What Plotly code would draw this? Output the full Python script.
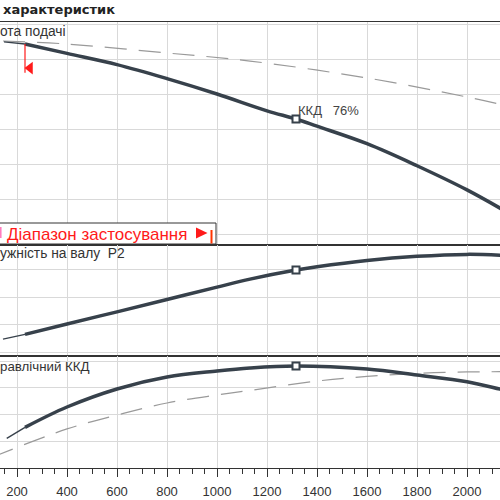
import plotly.graph_objects as go

# ---------------- data ----------------
Q_MIN = 232          # lower limit of application range (flow)
Q_BEP = 1316         # best efficiency point

# Head curve (top panel)
q_head = [148, 232, 400, 600, 800, 1000, 1200, 1316, 1400, 1600, 1800, 2000, 2200]
head = [37.45, 37.15, 35.8, 34.2, 32.2, 30.0, 27.6, 26.43, 25.4, 22.9, 19.75, 16.3, 12.3]
q_head_ref = [144, 400, 800, 1132, 1600, 2000, 2200]
head_ref = [37.57, 37.14, 35.86, 34.71, 32.29, 29.57, 28.0]

# Shaft power P2 (middle panel)
q_pow = [144, 232, 400, 600, 800, 1000, 1132, 1316, 1400, 1600, 1800, 2000, 2132, 2200]
power = [2.47, 2.64, 3.02, 3.46, 3.91, 4.36, 4.65, 4.98, 5.10, 5.33, 5.48, 5.55, 5.52, 5.48]

# Hydraulic efficiency (bottom panel)
q_eff = [159, 232, 400, 600, 800, 1000, 1132, 1316, 1600, 1800, 2000, 2132, 2200]
eff = [22.2, 30.4, 45.6, 59.1, 68.0, 72.5, 74.8, 76.3, 74.0, 69.5, 64.5, 59.0, 56.0]
q_eff_ref = [100, 400, 600, 800, 1000, 1132, 1400, 1600, 1800, 2000, 2132, 2200]
eff_ref = [8.0, 29.2, 39.6, 48.6, 54.6, 58.0, 65.0, 68.5, 70.8, 71.8, 72.0, 72.0]

bep_head, bep_power, bep_eff = 26.43, 4.98, 76.3
marker_bottom_head = 33.04
arrow_q, arrow_head = 252, 33.71

x_ticks = [0, 200, 400, 600, 800, 1000, 1200, 1400, 1600, 1800, 2000, 2200]
head_ticks = [10, 15, 20, 25, 30, 35, 40]
power_ticks = [2, 3, 4, 5]
eff_ticks = [0, 20, 40, 60, 80]

label_title = "характеристик"
label_head = "ота подачі"
label_power = "ужність на валу  P2"
label_eff = "равлічний ККД"
label_bep = "ККД   76%"
label_range = "Діапазон застосування"

# ---------------- styling ----------------
W, H = 500, 500
ML, MR, MT, MB = 0, 0, 22, 32
PLOT_H = H - MT - MB
DARK = "#37414b"
GRID = "#d9d9d9"
FONT = "Liberation Sans"


def px_x(p):
    return (p - ML) / (W - ML - MR)


def px_y(p):
    return (H - MB - p) / PLOT_H


def split(q, v):
    thin = [(a, b) for a, b in zip(q, v) if a <= Q_MIN]
    thick = [(a, b) for a, b in zip(q, v) if a >= Q_MIN]
    return list(zip(*thin)), list(zip(*thick))


fig = go.Figure()

def add_curve(q, v, xa, ya):
    (tq, tv), (kq, kv) = split(q, v)
    fig.add_trace(go.Scatter(x=tq, y=tv, mode="lines", xaxis=xa, yaxis=ya,
                             line=dict(color=DARK, width=1.4, shape="spline"),
                             hoverinfo="skip", showlegend=False))
    fig.add_trace(go.Scatter(x=kq, y=kv, mode="lines", xaxis=xa, yaxis=ya,
                             line=dict(color=DARK, width=3.5, shape="spline"),
                             hoverinfo="skip", showlegend=False))

def add_ref(q, v, xa, ya):
    fig.add_trace(go.Scatter(x=q, y=v, mode="lines", xaxis=xa, yaxis=ya,
                             line=dict(color="#9a9a9a", width=1.2, shape="spline",
                                       dash="22px,12px"),
                             hoverinfo="skip", showlegend=False))

def add_bep(val, xa, ya):
    fig.add_trace(go.Scatter(x=[Q_BEP], y=[val], mode="markers", xaxis=xa, yaxis=ya,
                             marker=dict(symbol="square", size=7, color="white",
                                         line=dict(color=DARK, width=2)),
                             hoverinfo="skip", showlegend=False))

# top panel
add_ref(q_head_ref, head_ref, "x", "y")
add_curve(q_head, head, "x", "y")
fig.add_trace(go.Scatter(x=[Q_MIN, Q_MIN], y=[head[q_head.index(Q_MIN)], marker_bottom_head],
                         mode="lines", xaxis="x", yaxis="y",
                         line=dict(color="#ff1a1a", width=1.2),
                         hoverinfo="skip", showlegend=False))
fig.add_trace(go.Scatter(x=[arrow_q], y=[arrow_head], mode="markers", xaxis="x", yaxis="y",
                         marker=dict(symbol="triangle-left", size=11, color="#ff1a1a",
                                     line=dict(width=0)),
                         hoverinfo="skip", showlegend=False))
add_bep(bep_head, "x", "y")

# middle panel
add_curve(q_pow, power, "x2", "y2")
add_bep(bep_power, "x2", "y2")

# bottom panel
add_ref(q_eff_ref, eff_ref, "x3", "y3")
add_curve(q_eff, eff, "x3", "y3")
add_bep(bep_eff, "x3", "y3")

# domains (pixel borders: 22 | 245 | 356 | 468)
dom_top = [px_y(245), 1.0]
dom_mid = [px_y(356), px_y(245)]
dom_bot = [0.0, px_y(356)]

XR = [132, 2132]
common_x = dict(range=XR, showgrid=True, gridcolor=GRID, gridwidth=1,
                tickmode="array", tickvals=x_ticks, showline=True, mirror=True,
                linecolor="#333333", linewidth=1, zeroline=False)

common_y = dict(showticklabels=False, ticks="", showline=False, gridcolor=GRID,
                gridwidth=1, zeroline=False, tickmode="array")

fig.update_layout(
    width=W, height=H,
    margin=dict(l=ML, r=MR, t=MT, b=MB),
    paper_bgcolor="white", plot_bgcolor="white",
    showlegend=False,
    font=dict(family=FONT, size=13, color="#333333"),
    xaxis=dict(**common_x, anchor="y", matches="x3", showticklabels=False, ticks=""),
    xaxis2=dict(**common_x, anchor="y2", matches="x3", showticklabels=False, ticks=""),
    xaxis3=dict(**common_x, anchor="y3", ticks="outside", ticklen=8, tickwidth=1,
                tickcolor="#333333", ticklabelstandoff=3,
                tickfont=dict(family=FONT, size=13, color="#333333"),
                minor=dict(tickmode="linear", tick0=0, dtick=50, ticks="outside",
                           ticklen=5, tickcolor="#333333", showgrid=False)),
    yaxis=dict(**common_y, domain=dom_top, range=[40 - (245 - 24) / 7, 40 + 2 / 7],
               tickvals=head_ticks),
    yaxis2=dict(**common_y, domain=dom_mid, range=[2 - 4 / 27.5, 2 + (352 - 245) / 27.5],
                tickvals=power_ticks),
    yaxis3=dict(**common_y, domain=dom_bot, range=[0, 112 * 20 / 26.75],
                tickvals=eff_ticks),
)

# range legend box and its symbols
fig.add_shape(type="rect", xref="paper", yref="paper",
              x0=px_x(-5), x1=px_x(216), y0=px_y(244), y1=px_y(223),
              fillcolor="white", line=dict(color="#333333", width=1), layer="above")
fig.add_shape(type="line", xref="paper", yref="paper",
              x0=px_x(211.5), x1=px_x(211.5), y0=px_y(243.5), y1=px_y(230),
              line=dict(color="#ff3300", width=2))
fig.add_shape(type="line", xref="paper", yref="paper",
              x0=px_x(0.8), x1=px_x(0.8), y0=px_y(238), y1=px_y(227),
              line=dict(color="#ff77bb", width=1.5))
fig.add_shape(type="path", xref="paper", yref="paper",
              path="M {} {} L {} {} L {} {} Z".format(px_x(196), px_y(227.5), px_x(207.5), px_y(233),
                                                      px_x(196), px_y(238.5)),
              fillcolor="#ff1a1a", line=dict(width=0))

def label(text, x, y, size=13, color="#333333", bold=False, family=FONT):
    fig.add_annotation(text="<b>%s</b>" % text if bold else text,
                       xref="paper", yref="paper", x=px_x(x), y=px_y(y),
                       xanchor="left", yanchor="middle", showarrow=False,
                       font=dict(family=family, size=size, color=color),
                       borderpad=0)

label(label_title, 2, 10, size=13, color="#222222", bold=True, family="DejaVu Sans")
label(label_head, -1, 32, size=13.8)
label(label_power, -1, 254, size=13.8)
label(label_eff, -1, 366, size=13.3)
label(label_bep, 297, 110, size=13, color="#444444")
label(label_range, 6, 234, size=17, color="#ff1a1a")

fig.write_html("out.html", config={"displayModeBar": False},
               post_script="document.body.style.margin='0px';")
